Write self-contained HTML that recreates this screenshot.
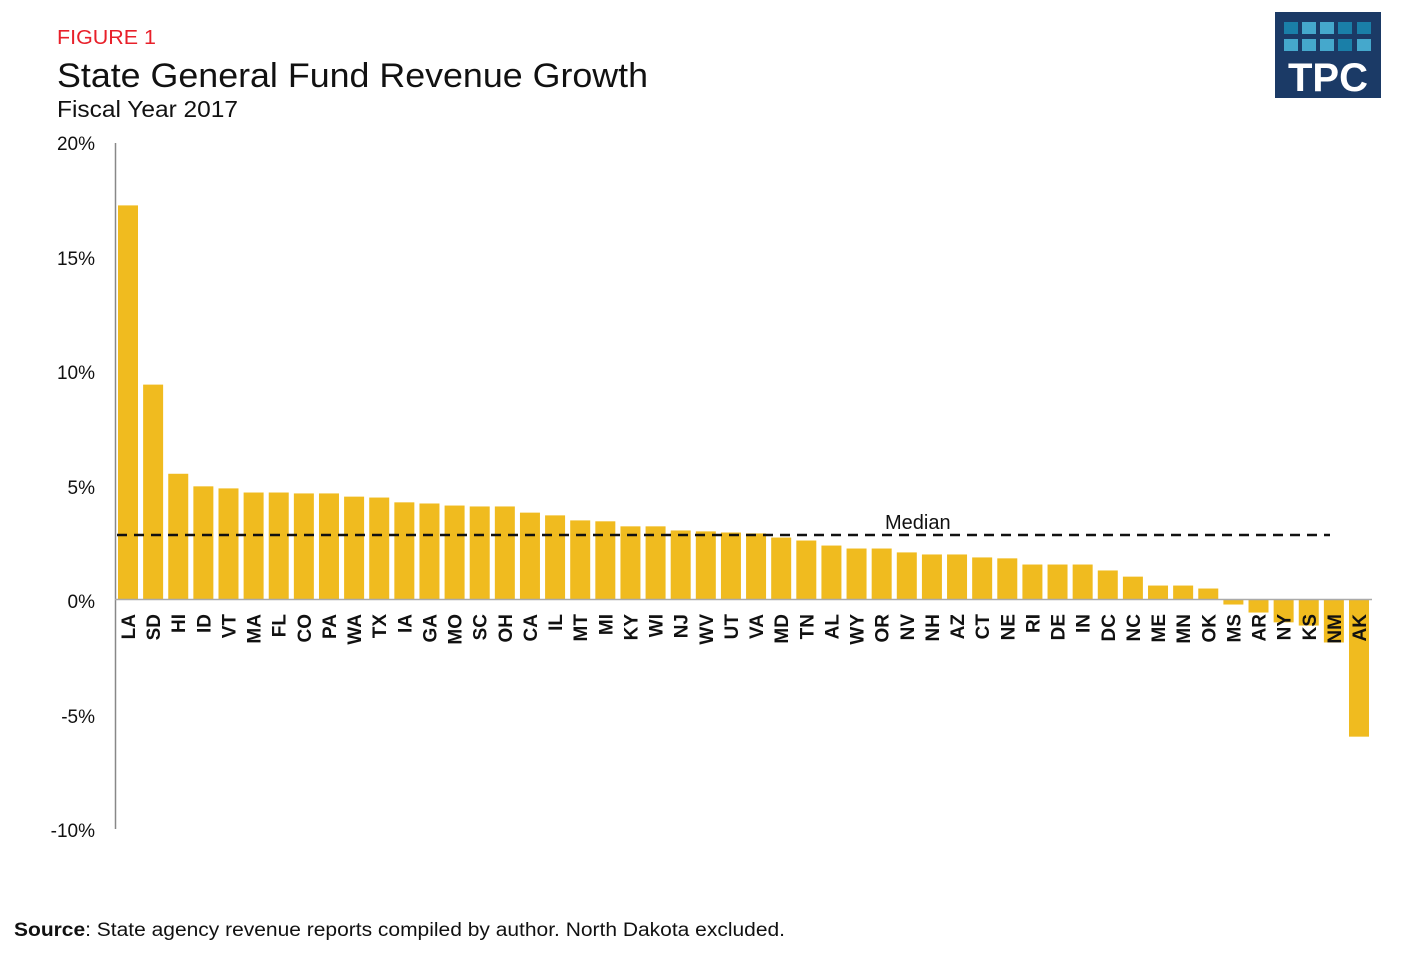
<!DOCTYPE html>
<html><head><meta charset="utf-8"><style>
body{margin:0;background:#fff;}
svg{display:block;font-family:"Liberation Sans",sans-serif;}
</style></head><body>
<svg width="1408" height="957" viewBox="0 0 1408 957" xmlns="http://www.w3.org/2000/svg">
<text x="57" y="44" font-size="20" fill="#e8202a" textLength="99" lengthAdjust="spacingAndGlyphs">FIGURE 1</text>
<text x="57" y="87" font-size="34" fill="#111" textLength="591" lengthAdjust="spacingAndGlyphs">State General Fund Revenue Growth</text>
<text x="57" y="117" font-size="23" fill="#111" textLength="181" lengthAdjust="spacingAndGlyphs">Fiscal Year 2017</text>
<rect x="1275" y="12" width="106" height="86" fill="#1b3a66"/>
<g>
<rect x="1284" y="22" width="14" height="12" fill="#1a7fa8"/><rect x="1302" y="22" width="14" height="12" fill="#45a8cc"/><rect x="1320" y="22" width="14" height="12" fill="#45a8cc"/><rect x="1338" y="22" width="14" height="12" fill="#1a7fa8"/><rect x="1357" y="22" width="14" height="12" fill="#1a7fa8"/>
<rect x="1284" y="39" width="14" height="12" fill="#45a8cc"/><rect x="1302" y="39" width="14" height="12" fill="#45a8cc"/><rect x="1320" y="39" width="14" height="12" fill="#45a8cc"/><rect x="1338" y="39" width="14" height="12" fill="#1a7fa8"/><rect x="1357" y="39" width="14" height="12" fill="#45a8cc"/>
</g>
<text x="1328" y="91" font-size="40" font-weight="bold" fill="#fff" text-anchor="middle">TPC</text>
<g font-size="19" fill="#111" text-anchor="end">
<text x="95" y="150">20%</text><text x="95" y="265">15%</text><text x="95" y="379">10%</text><text x="95" y="494">5%</text><text x="95" y="608">0%</text><text x="95" y="723">-5%</text><text x="95" y="837">-10%</text>
</g>
<line x1="115.5" y1="143" x2="115.5" y2="829" stroke="#888" stroke-width="1.5"/>
<g id="bars" fill="#f0bb1f"></g>
<line x1="115" y1="599.5" x2="1372" y2="599.5" stroke="#aaa" stroke-width="1.5"/>
<line x1="117" y1="535" x2="1330" y2="535" stroke="#111" stroke-width="2.5" stroke-dasharray="10,7"/>
<text x="885" y="529" font-size="20" fill="#111">Median</text>
<g id="labels" font-size="19" font-weight="bold" fill="#111" text-anchor="end"></g>
<text x="14" y="936" font-size="19" fill="#111" textLength="771" lengthAdjust="spacingAndGlyphs"><tspan font-weight="bold">Source</tspan>: State agency revenue reports compiled by author. North Dakota excluded.</text>
</svg>
<script>
var d=[["LA",17.24],["SD",9.4],["HI",5.5],["ID",4.95],["VT",4.86],["MA",4.68],["FL",4.68],["CO",4.64],["PA",4.64],["WA",4.5],["TX",4.46],["IA",4.25],["GA",4.2],["MO",4.11],["SC",4.07],["OH",4.07],["CA",3.8],["IL",3.68],["MT",3.46],["MI",3.42],["KY",3.2],["WI",3.2],["NJ",3.02],["WV",2.98],["UT",2.93],["VA",2.89],["MD",2.71],["TN",2.58],["AL",2.36],["WY",2.23],["OR",2.23],["NV",2.06],["NH",1.97],["AZ",1.97],["CT",1.84],["NE",1.8],["RI",1.53],["DE",1.53],["IN",1.53],["DC",1.27],["NC",1.0],["ME",0.61],["MN",0.61],["OK",0.48],["MS",-0.22],["AR",-0.57],["NY",-1.0],["KS",-1.14],["NM",-1.88],["AK",-6.0]];
var ns="http://www.w3.org/2000/svg",b=document.getElementById("bars"),l=document.getElementById("labels");
var y0=599.5,s=22.86,step=(1349-118)/49;
d.forEach(function(e,i){var x=118+i*step,h=e[1]*s;var r=document.createElementNS(ns,"rect");
r.setAttribute("x",x);r.setAttribute("width",20);r.setAttribute("y",h>0?y0-h:y0);r.setAttribute("height",Math.abs(h));b.appendChild(r);
var t=document.createElementNS(ns,"text");var cx=x+10+7;t.setAttribute("transform","translate("+cx+",614) rotate(-90)");t.textContent=e[0];l.appendChild(t);});
</script>
</body></html>
